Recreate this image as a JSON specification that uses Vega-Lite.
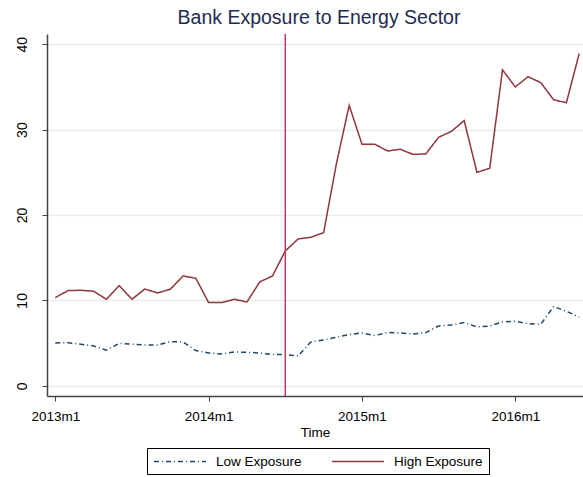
{
  "$schema": "https://vega.github.io/schema/vega-lite/v6.json",
  "autosize": "none",
  "width": 536,
  "height": 362,
  "padding": {"left": 47, "top": 34, "right": 0, "bottom": 81},
  "background": "white",
  "config": {
    "font": "Liberation Sans",
    "view": {"stroke": null}
  },
  "title": {
    "text": "Bank Exposure to Energy Sector",
    "fontSize": 19.5,
    "fontWeight": "normal",
    "color": "#1e2b50",
    "anchor": "middle",
    "offset": 5,
    "dx": 4
  },
  "datasets": {
    "exposure": [
      {"t": 0, "Low Exposure": 5.01, "High Exposure": 10.33},
      {"t": 1, "Low Exposure": 5.05, "High Exposure": 11.15},
      {"t": 2, "Low Exposure": 4.86, "High Exposure": 11.18},
      {"t": 3, "Low Exposure": 4.67, "High Exposure": 11.07},
      {"t": 4, "Low Exposure": 4.16, "High Exposure": 10.13},
      {"t": 5, "Low Exposure": 4.97, "High Exposure": 11.73},
      {"t": 6, "Low Exposure": 4.86, "High Exposure": 10.13},
      {"t": 7, "Low Exposure": 4.78, "High Exposure": 11.33},
      {"t": 8, "Low Exposure": 4.78, "High Exposure": 10.87},
      {"t": 9, "Low Exposure": 5.17, "High Exposure": 11.3},
      {"t": 10, "Low Exposure": 5.13, "High Exposure": 12.86},
      {"t": 11, "Low Exposure": 4.12, "High Exposure": 12.59},
      {"t": 12, "Low Exposure": 3.84, "High Exposure": 9.74},
      {"t": 13, "Low Exposure": 3.72, "High Exposure": 9.74},
      {"t": 14, "Low Exposure": 3.96, "High Exposure": 10.13},
      {"t": 15, "Low Exposure": 3.92, "High Exposure": 9.81},
      {"t": 16, "Low Exposure": 3.84, "High Exposure": 12.16},
      {"t": 17, "Low Exposure": 3.65, "High Exposure": 12.86},
      {"t": 18, "Low Exposure": 3.65, "High Exposure": 15.79},
      {"t": 19, "Low Exposure": 3.49, "High Exposure": 17.19},
      {"t": 20, "Low Exposure": 5.13, "High Exposure": 17.39},
      {"t": 21, "Low Exposure": 5.36, "High Exposure": 17.93},
      {"t": 22, "Low Exposure": 5.68, "High Exposure": 26.0},
      {"t": 23, "Low Exposure": 6.0, "High Exposure": 32.84},
      {"t": 24, "Low Exposure": 6.18, "High Exposure": 28.3},
      {"t": 25, "Low Exposure": 5.88, "High Exposure": 28.3},
      {"t": 26, "Low Exposure": 6.23, "High Exposure": 27.5},
      {"t": 27, "Low Exposure": 6.18, "High Exposure": 27.7},
      {"t": 28, "Low Exposure": 6.07, "High Exposure": 27.1},
      {"t": 29, "Low Exposure": 6.23, "High Exposure": 27.15},
      {"t": 30, "Low Exposure": 7.0, "High Exposure": 29.1},
      {"t": 31, "Low Exposure": 7.12, "High Exposure": 29.8},
      {"t": 32, "Low Exposure": 7.4, "High Exposure": 31.05},
      {"t": 33, "Low Exposure": 6.89, "High Exposure": 25.0},
      {"t": 34, "Low Exposure": 7.0, "High Exposure": 25.47},
      {"t": 35, "Low Exposure": 7.47, "High Exposure": 37.0},
      {"t": 36, "Low Exposure": 7.55, "High Exposure": 35.0},
      {"t": 37, "Low Exposure": 7.28, "High Exposure": 36.2},
      {"t": 38, "Low Exposure": 7.2, "High Exposure": 35.5},
      {"t": 39, "Low Exposure": 9.27, "High Exposure": 33.5},
      {"t": 40, "Low Exposure": 8.72, "High Exposure": 33.15},
      {"t": 41, "Low Exposure": 8.05, "High Exposure": 38.9}
    ],
    "event": [{"t": 18}]
  },
  "layer": [
    {
      "data": {"name": "exposure"},
      "transform": [
        {"fold": ["Low Exposure", "High Exposure"], "as": ["series", "value"]}
      ],
      "mark": {"type": "line", "strokeWidth": 1.5},
      "encoding": {
        "x": {
          "field": "t",
          "type": "quantitative",
          "scale": {"domain": [-0.65, 41.3], "nice": false, "zero": false},
          "axis": {
            "title": "Time",
            "titleFontSize": 13.5,
            "titleFontWeight": "normal",
            "titleColor": "#000",
            "titlePadding": 3,
            "values": [0, 12, 24, 36],
            "labelExpr": "(2013 + floor(datum.value / 12)) + 'm' + (datum.value % 12 + 1)",
            "labelFontSize": 13.5,
            "labelColor": "#000",
            "labelPadding": 8,
            "labelFlush": false,
            "grid": false,
            "tickSize": 5,
            "tickColor": "#444",
            "tickWidth": 1,
            "domainColor": "#444",
            "domainWidth": 1.5
          }
        },
        "y": {
          "field": "value",
          "type": "quantitative",
          "scale": {"domain": [-1.2, 41.2], "nice": false, "zero": false},
          "axis": {
            "title": null,
            "values": [0, 10, 20, 30, 40],
            "labelAngle": -90,
            "labelAlign": "center",
            "labelBaseline": "bottom",
            "labelFontSize": 14,
            "labelColor": "#000",
            "labelPadding": 13,
            "labelFlush": false,
            "grid": true,
            "gridColor": "#e6efef",
            "gridWidth": 1.5,
            "tickSize": 5,
            "tickColor": "#444",
            "tickWidth": 1,
            "domainColor": "#444",
            "domainWidth": 1.5
          }
        },
        "color": {
          "field": "series",
          "type": "nominal",
          "scale": {
            "domain": ["Low Exposure", "High Exposure"],
            "range": ["#1a476f", "#90353b"]
          },
          "legend": {
            "title": null,
            "orient": "none",
            "legendX": 100,
            "legendY": 414,
            "direction": "horizontal",
            "columns": 2,
            "columnPadding": 27,
            "symbolType": "M-1,0H7",
            "symbolSize": 169,
            "symbolStrokeWidth": 1.5,
            "labelFontSize": 13.5,
            "labelColor": "#000",
            "labelOffset": 48,
            "labelLimit": 300,
            "padding": 6,
            "strokeColor": "#000",
            "fillColor": "white"
          }
        },
        "strokeDash": {
          "field": "series",
          "type": "nominal",
          "scale": {
            "domain": ["Low Exposure", "High Exposure"],
            "range": [[5, 3, 1, 3], [1, 0]]
          },
          "legend": null
        }
      }
    },
    {
      "data": {"name": "event"},
      "mark": {"type": "rule", "color": "#c0395a", "strokeWidth": 1.5},
      "encoding": {
        "x": {"field": "t", "type": "quantitative"}
      }
    }
  ]
}
